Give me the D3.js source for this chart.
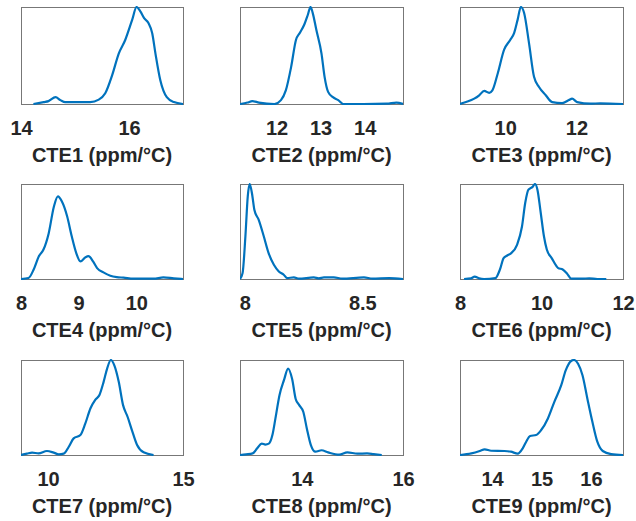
<!DOCTYPE html>
<html>
<head>
<meta charset="utf-8">
<script src="https://cdn.jsdelivr.net/npm/d3@7"></script>
<style>
  body { margin: 0; background: #fff; }
  text { font-family: "Liberation Sans", Arial, sans-serif; font-weight: bold; fill: #262626; }
</style>
</head>
<body>
<script>
// données (densités normalisées, 1 = haut du cadre)
const titres = ['CTE1 (ppm/°C)', 'CTE2 (ppm/°C)', 'CTE3 (ppm/°C)',
  'CTE4 (ppm/°C)', 'CTE5 (ppm/°C)', 'CTE6 (ppm/°C)',
  'CTE7 (ppm/°C)', 'CTE8 (ppm/°C)', 'CTE9 (ppm/°C)'];

const domaines = [[14, 17], [11.17, 14.87], [8.73, 13.31],
  [8, 10.81], [7.98, 8.673], [8, 12],
  [9, 15], [12.78, 16], [13.35, 16.65]];

const graduations = [[14, 16], [12, 13, 14], [10, 12],
  [8, 9, 10], [8, 8.5], [8, 10, 12],
  [10, 15], [14, 16], [14, 15, 16]];

const cte1X = [14.23, 14.42, 14.51, 14.64, 14.73, 14.82, 15.28, 15.44, 15.56, 15.69, 15.81, 15.93, 16.06, 16.14, 16.21, 16.28, 16.36, 16.43, 16.49, 16.58, 16.70, 16.83, 17.0];
const cte1Y = [0, 0.02, 0.03, 0.07, 0.04, 0.02, 0.02, 0.045, 0.11, 0.30, 0.52, 0.66, 0.87, 1.0, 0.955, 0.885, 0.835, 0.73, 0.52, 0.245, 0.07, 0.02, 0];

const cte2X = [11.17, 11.34, 11.45, 11.6, 11.95, 12.10, 12.21, 12.33, 12.44, 12.53, 12.63, 12.71, 12.77, 12.82, 12.90, 13.02, 13.09, 13.17, 13.28, 13.40, 13.51, 13.97, 14.5, 14.72, 14.87];
const cte2Y = [0, 0.015, 0.03, 0.015, 0, 0.04, 0.14, 0.38, 0.66, 0.735, 0.82, 0.92, 1.0, 0.94, 0.77, 0.52, 0.28, 0.125, 0.07, 0.04, 0, 0, 0.003, 0.015, 0];

const cte3X = [8.73, 8.90, 9.13, 9.27, 9.41, 9.55, 9.64, 9.79, 9.97, 10.14, 10.25, 10.35, 10.44, 10.53, 10.67, 10.81, 10.95, 11.14, 11.32, 11.60, 11.79, 11.88, 12.02, 12.4, 12.67, 13.31];
const cte3Y = [0, 0.02, 0.055, 0.09, 0.135, 0.115, 0.14, 0.315, 0.56, 0.66, 0.73, 0.87, 1.0, 0.94, 0.625, 0.28, 0.175, 0.09, 0.02, 0.01, 0.04, 0.055, 0.02, 0.003, 0.007, 0];

const cte4X = [8.0, 8.13, 8.22, 8.31, 8.39, 8.48, 8.57, 8.64, 8.71, 8.80, 8.88, 8.96, 9.03, 9.12, 9.17, 9.25, 9.32, 9.43, 9.55, 9.66, 9.78, 9.95, 10.3, 10.47, 10.65, 10.81];
const cte4Y = [0, 0.01, 0.1, 0.24, 0.31, 0.48, 0.76, 0.87, 0.815, 0.66, 0.45, 0.27, 0.185, 0.23, 0.24, 0.185, 0.115, 0.07, 0.035, 0.02, 0.014, 0.003, 0.003, 0.017, 0.007, 0];

const cte5X = [7.98, 7.991, 8.003, 8.013, 8.021, 8.031, 8.041, 8.060, 8.081, 8.102, 8.124, 8.145, 8.166, 8.18, 8.209, 8.23, 8.294, 8.315, 8.337, 8.379, 8.415, 8.507, 8.543, 8.614, 8.673];
const cte5Y = [0, 0.063, 0.45, 0.87, 1.0, 0.9, 0.73, 0.62, 0.45, 0.27, 0.15, 0.08, 0.045, 0.01, 0.017, 0.003, 0.017, 0.007, 0.017, 0.017, 0.003, 0.017, 0.003, 0.01, 0];

const cte6X = [8.10, 8.27, 8.36, 8.47, 8.59, 8.87, 8.98, 9.07, 9.15, 9.25, 9.40, 9.52, 9.60, 9.68, 9.78, 9.84, 9.90, 9.98, 10.06, 10.13, 10.25, 10.41, 10.52, 10.63, 10.73, 11.0, 11.17, 11.37, 11.59];
const cte6Y = [0, 0.007, 0.025, 0.007, 0, 0.01, 0.1, 0.22, 0.245, 0.27, 0.36, 0.55, 0.80, 0.94, 0.97, 1.0, 0.94, 0.70, 0.45, 0.31, 0.22, 0.115, 0.1, 0.055, 0.003, 0.003, 0.007, 0, 0];

const cte7X = [9.0, 9.22, 9.41, 9.65, 9.96, 10.21, 10.40, 10.58, 10.77, 10.95, 11.20, 11.38, 11.57, 11.75, 11.91, 12.06, 12.19, 12.33, 12.46, 12.62, 12.78, 12.95, 13.11, 13.30, 13.54, 13.91];
const cte7Y = [0, 0.014, 0.025, 0.017, 0.042, 0.025, 0.007, 0.014, 0.087, 0.175, 0.21, 0.33, 0.49, 0.58, 0.635, 0.77, 0.91, 1.0, 0.94, 0.77, 0.525, 0.40, 0.26, 0.105, 0.028, 0];

const cte8X = [12.78, 12.9, 13.03, 13.12, 13.21, 13.28, 13.35, 13.42, 13.48, 13.56, 13.65, 13.73, 13.81, 13.88, 13.95, 14.03, 14.10, 14.18, 14.27, 14.39, 14.52, 14.74, 14.90, 15.10, 15.29, 15.42, 15.58];
const cte8Y = [0, 0.007, 0.017, 0.07, 0.12, 0.11, 0.12, 0.21, 0.385, 0.63, 0.79, 0.91, 0.80, 0.59, 0.525, 0.455, 0.28, 0.105, 0.035, 0.05, 0.028, 0.003, 0.028, 0.014, 0.017, 0.01, 0];

const cte9X = [13.35, 13.58, 13.75, 13.85, 13.98, 14.25, 14.38, 14.52, 14.62, 14.69, 14.77, 14.89, 14.99, 15.13, 15.26, 15.40, 15.49, 15.60, 15.66, 15.74, 15.83, 15.93, 16.03, 16.13, 16.24, 16.41, 16.65];
const cte9Y = [0, 0.017, 0.042, 0.06, 0.045, 0.042, 0.035, 0.014, 0.07, 0.14, 0.2, 0.21, 0.26, 0.385, 0.56, 0.735, 0.89, 0.99, 1.0, 0.96, 0.84, 0.59, 0.35, 0.14, 0.042, 0.01, 0];

const seriesX = [cte1X, cte2X, cte3X, cte4X, cte5X, cte6X, cte7X, cte8X, cte9X];
const seriesY = [cte1Y, cte2Y, cte3Y, cte4Y, cte5Y, cte6Y, cte7Y, cte8Y, cte9Y];

// mise en page : colonnes et lignes des cadres
const colonnes = [[21, 183], [240, 403], [460, 623]];
const lignes = [[7, 104], [184, 279], [360, 455]];

const canevas = d3.select('body')
  .append('svg')
  .attr('width', 636)
  .attr('height', 521);

titres.forEach((titre, i) => {
  const [x0, x1] = colonnes[i % 3];
  const [y0, y1] = lignes[Math.floor(i / 3)];

  const echelleX = d3.scaleLinear().domain(domaines[i]).range([x0, x1]);
  const echelleY = d3.scaleLinear().domain([0, 1]).range([y1, y0]);

  const g = canevas.append('g');

  g.append('clipPath')
    .attr('id', 'clip' + i)
    .append('rect')
    .attr('x', x0).attr('y', y0 - 1)
    .attr('width', x1 - x0).attr('height', y1 - y0 + 2);

  // cadre
  g.append('rect')
    .attr('x', x0 + 0.5).attr('y', y0 + 0.5)
    .attr('width', x1 - x0).attr('height', y1 - y0)
    .attr('fill', 'none')
    .attr('stroke', '#777')
    .attr('stroke-width', 1);

  // courbe de densité
  const ligne = d3.line()
    .x((d, j) => echelleX(d))
    .y((d, j) => echelleY(seriesY[i][j]))
    .curve(d3.curveMonotoneX);

  g.append('path')
    .attr('clip-path', 'url(#clip' + i + ')')
    .attr('d', ligne(seriesX[i]))
    .attr('fill', 'none')
    .attr('stroke', '#0072BD')
    .attr('stroke-width', 2.2);

  // axe x sans traits
  const axe = d3.axisBottom(echelleX)
    .tickValues(graduations[i])
    .tickFormat(d3.format('~g'))
    .tickSize(0)
    .tickPadding(0);

  const gAxe = g.append('g')
    .attr('transform', `translate(0,${y1 + 31})`)
    .call(axe);
  gAxe.select('.domain').remove();
  gAxe.selectAll('text')
    .attr('dy', 0)
    .attr('y', 0)
    .style('font-size', '20px')
    .style('font-family', '"Liberation Sans", Arial, sans-serif')
    .style('font-weight', 'bold')
    .attr('fill', '#262626');

  g.append('text')
    .attr('x', (x0 + x1) / 2)
    .attr('y', y1 + 58)
    .attr('text-anchor', 'middle')
    .style('font-size', '20px')
    .text(titre);
});
</script>
</body>
</html>
